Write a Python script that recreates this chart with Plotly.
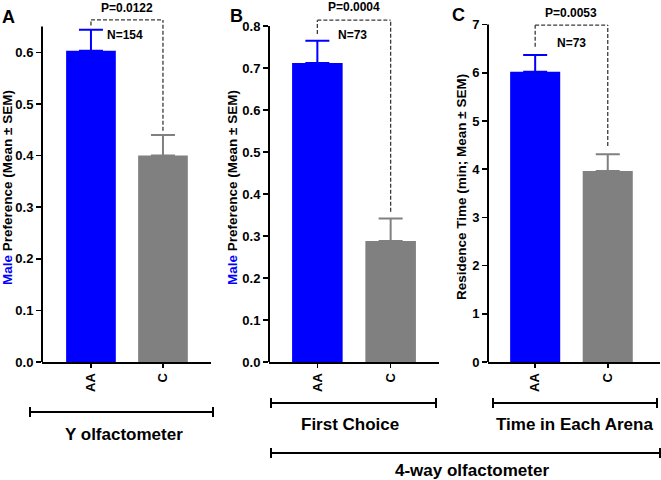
import plotly.graph_objects as go

# ---------------- data ----------------
categories = ["AA", "C"]

y_olf_mean = [0.603, 0.400]          # Panel A: Male preference, Y olfactometer
y_olf_sem = [0.041, 0.040]

first_choice_mean = [0.712, 0.288]   # Panel B: Male preference, first choice
first_choice_sem = [0.053, 0.054]

residence_mean = [6.02, 3.96]        # Panel C: residence time (min)
residence_sem = [0.35, 0.35]

p_values = ["P=0.0122", "P=0.0004", "P=0.0053"]
n_labels = ["N=154", "N=73", "N=73"]
panel_letters = ["A", "B", "C"]

ticks_A = [0.0, 0.1, 0.2, 0.3, 0.4, 0.5, 0.6]
ticks_B = [0.0, 0.1, 0.2, 0.3, 0.4, 0.5, 0.6, 0.7, 0.8]
ticks_C = [0, 1, 2, 3, 4, 5, 6, 7]

y_titles = [
    "<span style='color:#0000FF'>Male</span> Preference (Mean ± SEM)",
    "<span style='color:#0000FF'>Male</span> Preference (Mean ± SEM)",
    "Residence Time (min; Mean ± SEM)",
]

bracket_labels = ["Y olfactometer", "First Choice", "Time in Each Arena", "4-way olfactometer"]

# ---------------- layout helpers ----------------
W, H = 661, 480
FONT = "Liberation Sans, Arial, Helvetica, sans-serif"
BLUE = "#0000FF"
GRAY = "#808080"


def fx(p):
    return p / W


def fy(p):
    return 1 - p / H


panels = [
    dict(mean=y_olf_mean, sem=y_olf_sem, ticks=ticks_A, top=0.65, fmt=".1f",
         xdom=(42, 211), xr=[-0.68, 1.667], yr=[0, 0.7016],
         p_y=0.687, n_y=0.634, n_x=0.47, br_top=0.663, gap=0.008,
         title_x=8, title_y=188, letter=(8, 17)),
    dict(mean=first_choice_mean, sem=first_choice_sem, ticks=ticks_B, top=0.8, fmt=".1f",
         xdom=(269, 439), xr=[-0.66, 1.66], yr=[0, 0.862],
         p_y=0.845, n_y=0.779, n_x=0.48, br_top=0.814, gap=0.016,
         title_x=233, title_y=188, letter=(236, 16)),
    dict(mean=residence_mean, sem=residence_sem, ticks=ticks_C, top=7, fmt="d",
         xdom=(488, 660), xr=[-0.65, 1.72], yr=[0, 7.51],
         p_y=7.24, n_y=6.62, n_x=0.5, br_top=6.99, gap=0.17,
         title_x=461, title_y=187, letter=(458, 15)),
]

fig = go.Figure()
shapes = []
annotations = []


def note(xref, yref, x, y, text, size, angle=0):
    return dict(xref=xref, yref=yref, x=x, y=y, text=text, showarrow=False,
                xanchor="center", yanchor="middle", textangle=angle,
                font=dict(family=FONT, size=size, color="black"))


for i, pn in enumerate(panels):
    sfx = "" if i == 0 else str(i + 1)
    xa, ya = "x" + sfx, "y" + sfx
    colors = [BLUE, GRAY]
    for j, cat in enumerate(categories):
        fig.add_trace(go.Bar(
            x=[cat], y=[pn["mean"][j]], width=0.69,
            marker=dict(color=colors[j], line=dict(width=0)),
            error_y=dict(type="data", array=[pn["sem"][j]], arrayminus=[0],
                         symmetric=False, color=colors[j], thickness=2, width=12),
            xaxis=xa, yaxis=ya, showlegend=False, hoverinfo="skip",
        ))
    fig.layout["xaxis" + sfx] = dict(
        domain=[fx(pn["xdom"][0]), fx(pn["xdom"][1])], anchor=ya, automargin=False,
        type="category", categoryorder="array", categoryarray=categories,
        range=pn["xr"], showline=True, linecolor="black", linewidth=2,
        ticks="outside", ticklen=4, tickwidth=1.5, tickcolor="black",
        tickangle=-90, tickfont=dict(family=FONT, size=13, color="black", weight="bold"),
        showgrid=False, zeroline=False, fixedrange=True,
    )
    fig.layout["yaxis" + sfx] = dict(
        domain=[fy(362), 1], anchor=xa, range=pn["yr"], automargin=False,
        tickmode="array", tickvals=pn["ticks"], tickformat=pn["fmt"],
        showline=False, ticks="outside", ticklen=5, tickwidth=1.5, tickcolor="black",
        tickfont=dict(family=FONT, size=13, color="black", weight="bold"),
        showgrid=False, zeroline=False, fixedrange=True,
    )
    # y axis line only up to the last tick
    shapes.append(dict(type="line", xref=xa + " domain", yref=ya, x0=0, x1=0,
                       y0=0, y1=pn["top"], line=dict(color="black", width=2)))
    # dashed significance bracket
    left_b = pn["mean"][0] + pn["sem"][0] + pn["gap"]
    right_b = pn["mean"][1] + pn["sem"][1] + pn["gap"]
    dash = dict(color="#3a3a3a", width=1.3, dash="4px,2px")
    shapes.append(dict(type="line", xref=xa, yref=ya, x0=0, x1=0, y0=left_b, y1=pn["br_top"], line=dash))
    shapes.append(dict(type="line", xref=xa, yref=ya, x0=0, x1=1, y0=pn["br_top"], y1=pn["br_top"], line=dash))
    shapes.append(dict(type="line", xref=xa, yref=ya, x0=1, x1=1, y0=right_b, y1=pn["br_top"], line=dash))
    annotations.append(note(xa, ya, 0.5, pn["p_y"], "<b>%s</b>" % p_values[i], 12))
    annotations.append(note(xa, ya, pn["n_x"], pn["n_y"], "<b>%s</b>" % n_labels[i], 12))
    annotations.append(note("paper", "paper", fx(pn["title_x"]), fy(pn["title_y"]),
                            "<b>%s</b>" % y_titles[i], 13.5, angle=-90))
    annotations.append(note("paper", "paper", fx(pn["letter"][0]), fy(pn["letter"][1]),
                            "<b>%s</b>" % panel_letters[i], 18))

# bottom group brackets (x0, x1, y line, text x, text y)
brackets = [
    (30, 213, 412, 124, 434),
    (271, 436, 403, 350, 424),
    (493, 657, 403, 574, 424),
    (271, 660, 453, 472, 470),
]
for (x0, x1, yl, tx, ty), lab in zip(brackets, bracket_labels):
    ln = dict(color="black", width=2)
    shapes.append(dict(type="line", xref="paper", yref="paper", x0=fx(x0), x1=fx(x1), y0=fy(yl), y1=fy(yl), line=ln))
    for xe in (x0, x1):
        shapes.append(dict(type="line", xref="paper", yref="paper", x0=fx(xe), x1=fx(xe),
                           y0=fy(yl - 5), y1=fy(yl + 5), line=ln))
    annotations.append(note("paper", "paper", fx(tx), fy(ty), "<b>%s</b>" % lab, 17))

fig.update_layout(
    template="none",
    width=W, height=H, margin=dict(l=0, r=0, t=0, b=0, autoexpand=False),
    paper_bgcolor="white", plot_bgcolor="white",
    barmode="overlay", shapes=shapes, annotations=annotations,
    font=dict(family=FONT, color="black"), hovermode=False,
)

fig.write_html("out.html", config={"displayModeBar": False, "staticPlot": True},
               post_script="document.body.style.margin='0';document.body.style.overflow='hidden';")
